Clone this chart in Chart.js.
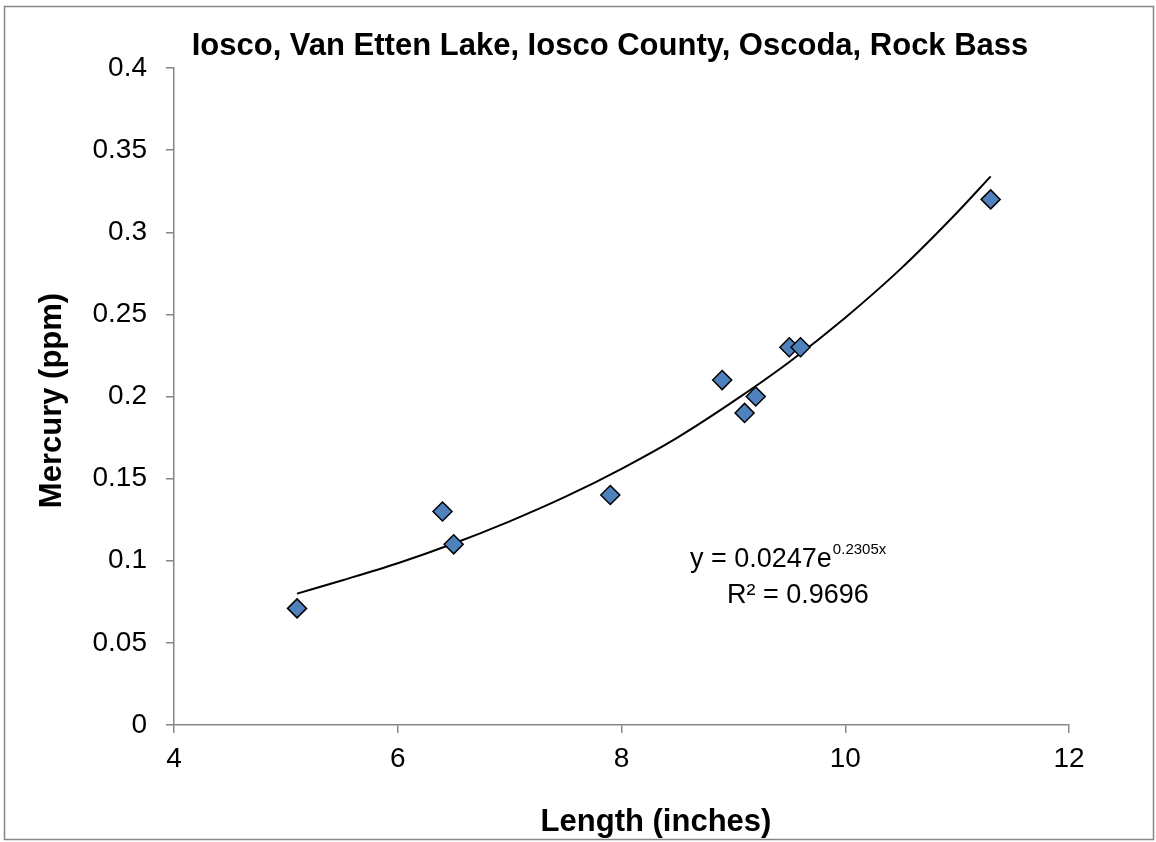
<!DOCTYPE html>
<html>
<head>
<meta charset="utf-8">
<script src="https://cdn.jsdelivr.net/npm/chart.js@4"></script>
<style>
html,body{margin:0;padding:0;background:#fff;}
canvas{display:block;}
</style>
</head>
<body>
<canvas id="c" width="1156" height="842"></canvas>
<script>
// ---- data ----
const chartTitle = "Iosco, Van Etten Lake, Iosco County, Oscoda, Rock Bass";
const xTitle = "Length (inches)";
const yTitle = "Mercury (ppm)";
const lengths = [5.1, 6.4, 6.5, 7.9, 8.9, 9.1, 9.2, 9.5, 9.6, 11.3];
const mercury = [0.071, 0.13, 0.11, 0.14, 0.21, 0.19, 0.20, 0.23, 0.23, 0.32];
const trendX = [5.1, 5.5, 6, 6.5, 7, 7.5, 8, 8.5, 9, 9.5, 10, 10.5, 11, 11.3];
const trendY = [0.080, 0.088, 0.0985, 0.1105, 0.124, 0.139, 0.156, 0.175, 0.197, 0.221, 0.248, 0.278, 0.312, 0.334];
const xTickValues = [4, 6, 8, 10, 12];
const yTickValues = [0, 0.05, 0.1, 0.15, 0.2, 0.25, 0.3, 0.35, 0.4];
const yTickLabels = ["0", "0.05", "0.1", "0.15", "0.2", "0.25", "0.3", "0.35", "0.4"];
const eqMain = "y = 0.0247e";
const eqExp = "0.2305x";
const eqR2 = "R\u00B2 = 0.9696";

const AXIS_GRAY = '#868686';
const SANS = '"Liberation Sans", Arial, sans-serif';

const textPlugin = {
  id: 'texts',
  beforeDraw(chart) {
    const ctx = chart.ctx;
    ctx.save();
    ctx.fillStyle = '#fff';
    ctx.fillRect(0, 0, chart.width, chart.height);
    ctx.strokeStyle = AXIS_GRAY;
    ctx.lineWidth = 1.5;
    ctx.strokeRect(4.5, 6.5, 1149, 833);
    ctx.restore();
  },
  afterDraw(chart) {
    const ctx = chart.ctx;
    const area = chart.chartArea;
    ctx.save();
    ctx.fillStyle = '#000';
    // title
    ctx.font = 'bold 31px ' + SANS;
    ctx.textAlign = 'center';
    ctx.textBaseline = 'alphabetic';
    ctx.fillText(chartTitle, 610, 55);
    // x axis title
    ctx.fillText(xTitle, 656, 831);
    // y axis title
    ctx.save();
    ctx.translate(61, (area.top + area.bottom) / 2 + 4);
    ctx.rotate(-Math.PI / 2);
    ctx.fillText(yTitle, 0, 0);
    ctx.restore();
    // equation
    ctx.textAlign = 'left';
    ctx.font = '27px ' + SANS;
    ctx.fillText(eqMain, 690, 567);
    const w = ctx.measureText(eqMain).width;
    ctx.font = '15px ' + SANS;
    ctx.fillText(eqExp, 690 + w + 1, 554);
    ctx.font = '27px ' + SANS;
    ctx.fillText(eqR2, 727, 603);
    ctx.restore();
  }
};

new Chart(document.getElementById('c'), {
  type: 'scatter',
  data: {
    datasets: [
      {
        label: 'Trend',
        data: trendX.map((x, i) => ({ x: x, y: trendY[i] })),
        showLine: true,
        borderColor: '#000',
        borderWidth: 2,
        pointRadius: 0,
        cubicInterpolationMode: 'monotone',
        fill: false,
        order: 2
      },
      {
        label: 'Mercury',
        data: lengths.map((x, i) => ({ x: x, y: mercury[i] })),
        showLine: false,
        pointStyle: 'rectRot',
        pointRadius: 9.5,
        pointHoverRadius: 9.5,
        backgroundColor: '#4F81BD',
        borderColor: '#000',
        borderWidth: 1.5,
        order: 1
      }
    ]
  },
  options: {
    responsive: false,
    animation: false,
    devicePixelRatio: 1,
    layout: { padding: { left: 0, top: 68, right: 87, bottom: 0 } },
    plugins: {
      legend: { display: false },
      title: { display: false },
      tooltip: { enabled: false }
    },
    scales: {
      x: {
        type: 'linear',
        min: xTickValues[0],
        max: xTickValues[xTickValues.length - 1],
        afterBuildTicks: s => { s.ticks = xTickValues.map(v => ({ value: v })); },
        afterFit: s => { s.height = 117; },
        ticks: {
          color: '#000',
          font: { family: SANS, size: 28 },
          padding: 9,
          maxRotation: 0,
          callback: v => String(v)
        },
        grid: { drawOnChartArea: false, drawTicks: true, tickLength: 8, color: AXIS_GRAY, lineWidth: 1.5 },
        border: { display: true, color: AXIS_GRAY, width: 1.5 }
      },
      y: {
        type: 'linear',
        min: yTickValues[0],
        max: yTickValues[yTickValues.length - 1],
        afterBuildTicks: s => { s.ticks = yTickValues.map(v => ({ value: v })); },
        afterFit: s => { s.width = 174; },
        ticks: {
          color: '#000',
          font: { family: SANS, size: 28 },
          padding: 19,
          callback: (v, i) => yTickLabels[i]
        },
        grid: { drawOnChartArea: false, drawTicks: true, tickLength: 8, color: AXIS_GRAY, lineWidth: 1.5 },
        border: { display: true, color: AXIS_GRAY, width: 1.5 }
      }
    }
  },
  plugins: [textPlugin]
});
</script>
</body>
</html>
